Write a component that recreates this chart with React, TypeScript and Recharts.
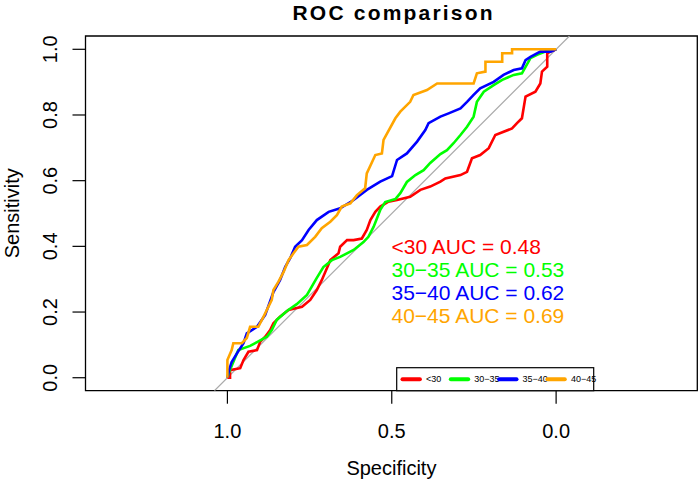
import { LineChart, Line, XAxis, YAxis, ReferenceArea } from "recharts";

type Pt = [number, number];

// specificity, sensitivity pairs
const under30: Pt[] = [
  [1, 0], [0.992, 0], [0.992, 0.023], [0.961, 0.029], [0.951, 0.054], [0.936, 0.079],
  [0.91, 0.084], [0.9, 0.11], [0.885, 0.125], [0.87, 0.145], [0.86, 0.166], [0.84, 0.186],
  [0.814, 0.206], [0.773, 0.216], [0.748, 0.237], [0.728, 0.267], [0.713, 0.297],
  [0.697, 0.334], [0.687, 0.358], [0.662, 0.379], [0.657, 0.399], [0.636, 0.419],
  [0.616, 0.419], [0.591, 0.424], [0.576, 0.45], [0.565, 0.48], [0.55, 0.505],
  [0.535, 0.521], [0.51, 0.536], [0.484, 0.541], [0.444, 0.551], [0.413, 0.572],
  [0.383, 0.582], [0.352, 0.597], [0.337, 0.607], [0.291, 0.617], [0.271, 0.627],
  [0.256, 0.668], [0.231, 0.678], [0.205, 0.699], [0.185, 0.739], [0.134, 0.759],
  [0.119, 0.775], [0.104, 0.79], [0.093, 0.856], [0.063, 0.871], [0.048, 0.896],
  [0.043, 0.932], [0.027, 0.947], [0.027, 0.988], [0.017, 0.993], [0, 1],
];

const from30to35: Pt[] = [
  [1, 0], [0.995, 0.017], [0.982, 0.048], [0.967, 0.084], [0.931, 0.097], [0.907, 0.11],
  [0.88, 0.125], [0.865, 0.145], [0.85, 0.176], [0.819, 0.203], [0.789, 0.224],
  [0.758, 0.252], [0.728, 0.304], [0.708, 0.337], [0.682, 0.358], [0.657, 0.368],
  [0.616, 0.389], [0.586, 0.413], [0.571, 0.429], [0.555, 0.46], [0.535, 0.511],
  [0.52, 0.535], [0.489, 0.544], [0.474, 0.562], [0.454, 0.596], [0.428, 0.617],
  [0.403, 0.632], [0.383, 0.654], [0.352, 0.681], [0.332, 0.693], [0.312, 0.714],
  [0.291, 0.739], [0.271, 0.764], [0.251, 0.795], [0.241, 0.84], [0.22, 0.871],
  [0.19, 0.891], [0.164, 0.907], [0.129, 0.922], [0.104, 0.927], [0.078, 0.973],
  [0.058, 0.983], [0.033, 0.993], [0, 1],
];

const from35to40: Pt[] = [
  [1, 0], [0.995, 0.023], [0.987, 0.048], [0.971, 0.074], [0.951, 0.105], [0.941, 0.135],
  [0.91, 0.155], [0.885, 0.191], [0.86, 0.261], [0.84, 0.297], [0.824, 0.338],
  [0.809, 0.364], [0.794, 0.399], [0.773, 0.419], [0.753, 0.45], [0.728, 0.48],
  [0.692, 0.505], [0.657, 0.516], [0.616, 0.541], [0.576, 0.572], [0.535, 0.597],
  [0.499, 0.614], [0.484, 0.663], [0.454, 0.683], [0.423, 0.719], [0.398, 0.754],
  [0.388, 0.775], [0.352, 0.795], [0.327, 0.805], [0.291, 0.82], [0.271, 0.84],
  [0.251, 0.861], [0.231, 0.881], [0.19, 0.901], [0.16, 0.922], [0.129, 0.937],
  [0.104, 0.942], [0.093, 0.967], [0.078, 0.977], [0.048, 0.993], [0.017, 0.993], [0, 1],
];

const from40to45: Pt[] = [
  [1, 0], [1, 0.054], [0.987, 0.084], [0.982, 0.105], [0.956, 0.105], [0.941, 0.121],
  [0.931, 0.155], [0.906, 0.155], [0.89, 0.186], [0.865, 0.237], [0.86, 0.267],
  [0.845, 0.292], [0.829, 0.322], [0.814, 0.358], [0.799, 0.379], [0.784, 0.399],
  [0.758, 0.404], [0.733, 0.429], [0.713, 0.455], [0.687, 0.475], [0.667, 0.495],
  [0.652, 0.521], [0.626, 0.531], [0.606, 0.556], [0.581, 0.577], [0.576, 0.622],
  [0.55, 0.678], [0.53, 0.683], [0.525, 0.724], [0.489, 0.79], [0.474, 0.81],
  [0.444, 0.84], [0.434, 0.861], [0.393, 0.876], [0.362, 0.896], [0.251, 0.896],
  [0.241, 0.927], [0.215, 0.932], [0.215, 0.962], [0.164, 0.962], [0.164, 0.988],
  [0.134, 0.988], [0.134, 1], [0, 1],
];

const groups = ["<30", "30\u221235", "35\u221240", "40\u221245"];
const aucs = [0.48, 0.53, 0.62, 0.69];
const colors = ["#ff0000", "#00ff00", "#0000ff", "#ffa500"];
const curves = [under30, from30to35, from35to40, from40to45];

// chance line, clipped to the plot box
const chance: Pt[] = [[1.0395, -0.0395], [-0.0405, 1.0405]];

const xTicks = [1, 0.5, 0];
const yTicks = [0, 0.2, 0.4, 0.6, 0.8, 1];

const xDomain = [-0.4295, 1.4317];
const yDomain = [-0.0395, 1.0405];

const FONT = "'Liberation Sans', Arial, Helvetica, sans-serif";

const toRows = (pts: Pt[]) => pts.map(([spec, sens]) => ({ spec, sens }));

function XTick({ x, y, payload }: any) {
  return (
    <text x={x} y={y + 34.6} textAnchor="middle" fontSize={20} fontFamily={FONT} fill="#000">
      {payload.value.toFixed(1)}
    </text>
  );
}

function YTick({ x, y, payload }: any) {
  const bx = x - 15.8;
  return (
    <text
      x={bx}
      y={y}
      textAnchor="middle"
      fontSize={20}
      fontFamily={FONT}
      fill="#000"
      transform={`rotate(-90 ${bx} ${y})`}
    >
      {payload.value.toFixed(1)}
    </text>
  );
}

export default function App() {
  return (
    <div style={{ position: "absolute", left: 0, top: 0, width: 699, height: 481, background: "#fff" }}>
      <LineChart width={699} height={481} margin={{ top: 36, right: 1.7, bottom: 0, left: 0 }}>
        <XAxis
          type="number"
          dataKey="spec"
          domain={xDomain}
          allowDataOverflow
          reversed
          ticks={xTicks}
          height={90.3}
          axisLine={false}
          tickSize={13}
          tickMargin={0}
          tickLine={{ stroke: "#000", strokeWidth: 1.2 }}
          tick={<XTick />}
        />
        <YAxis
          type="number"
          dataKey="sens"
          domain={yDomain}
          allowDataOverflow
          ticks={yTicks}
          width={85.5}
          axisLine={false}
          tickSize={13}
          tickMargin={0}
          tickLine={{ stroke: "#000", strokeWidth: 1.2 }}
          tick={<YTick />}
        />
        <Line
          data={toRows(chance)}
          dataKey="sens"
          stroke="#aaaaaa"
          strokeWidth={1.2}
          dot={false}
          legendType="none"
          isAnimationActive={false}
        />
        {curves.map((pts, i) => (
          <Line
            key={groups[i]}
            name={groups[i]}
            data={toRows(pts)}
            dataKey="sens"
            type="linear"
            stroke={colors[i]}
            strokeWidth={2.6}
            dot={false}
            isAnimationActive={false}
          />
        ))}
        <ReferenceArea
          x1={xDomain[0]}
          x2={xDomain[1]}
          y1={yDomain[0]}
          y2={yDomain[1]}
          fill="none"
          stroke="#000"
          strokeWidth={1.3}
          ifOverflow="visible"
        />
      </LineChart>

      <svg
        width={699}
        height={481}
        style={{ position: "absolute", left: 0, top: 0, pointerEvents: "none", overflow: "visible" }}
        fontFamily={FONT}
      >
        <text x={392.5} y={19.5} textAnchor="middle" fontSize={21} fontWeight="bold" textLength={200} lengthAdjust="spacing">
          ROC comparison
        </text>
        <text x={391.4} y={475} textAnchor="middle" fontSize={20}>
          Specificity
        </text>
        <text x={19} y={213.3} textAnchor="middle" fontSize={20} transform="rotate(-90 19 213.3)">
          Sensitivity
        </text>

        {groups.map((g, i) => (
          <text key={g} x={391.5} y={254 + i * 22.9} fontSize={21} fill={colors[i]}>
            {`${g} AUC = ${aucs[i].toFixed(2)}`}
          </text>
        ))}

        <rect x={396.7} y={367.7} width={197} height={23} fill="#fff" stroke="#000" strokeWidth={1.2} />
        {groups.map((g, i) => (
          <g key={g}>
            <line
              x1={402.5 + i * 48.3}
              x2={419.9 + i * 48.3}
              y1={379.3}
              y2={379.3}
              stroke={colors[i]}
              strokeWidth={4}
              strokeLinecap="round"
            />
            <text x={426 + i * 48.3} y={382.4} fontSize={9}>
              {g}
            </text>
          </g>
        ))}
      </svg>
    </div>
  );
}
